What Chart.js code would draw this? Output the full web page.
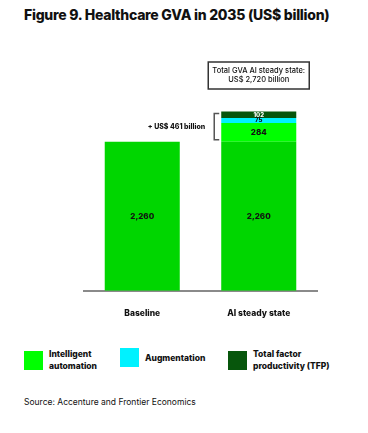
<!DOCTYPE html>
<html>
<head>
<meta charset="utf-8">
<script src="https://cdn.jsdelivr.net/npm/chart.js@4.4.1/dist/chart.umd.min.js"></script>
<style>
  body { margin: 0; width: 368px; height: 433px; background: #fff; position: relative; overflow: hidden;
         font-family: Inter, "Open Sans", sans-serif; color: #111; }
  h1 { position: absolute; left: 24px; top: 6px; margin: 0; font-size: 14px; line-height: 18px; font-weight: 800; letter-spacing: -0.25px; white-space: nowrap; }
  #wrap { position: absolute; left: 0; top: 0; width: 368px; height: 341px; }
  #legend { position: absolute; left: 0; top: 348px; width: 368px; height: 24px; }
  .item { position: absolute; top: 0; display: flex; align-items: center; }
  .swatch { width: 19px; height: 19px; flex: none; }
  .text { margin-left: 6px; font-size: 8.5px; font-weight: 800; line-height: 12px; white-space: nowrap; }
  #source { position: absolute; left: 24px; top: 396px; font-size: 8.5px; line-height: 12px; white-space: nowrap; }
</style>
</head>
<body>
<h1>Figure 9. Healthcare GVA in 2035 (US$ billion)</h1>
<div id="wrap"><canvas id="gvaChart"></canvas></div>
<div id="legend"></div>
<div id="source">Source: Accenture and Frontier Economics</div>
<script>
const categories = ['Baseline', 'AI steady state'];
const baselineGva = [2260, 2260];
const intelligentAutomation = [null, 284];
const augmentation = [null, 75];
const totalFactorProductivity = [null, 102];
const totalAiLabel = 2720;

const gain = intelligentAutomation[1] + augmentation[1] + totalFactorProductivity[1];
const stackTop = baselineGva[1] + gain;

const segmentLabels = {
    id: 'segmentLabels',
    afterDatasetsDraw(chart) {
        const ctx = chart.ctx;
        ctx.save();
        ctx.textAlign = 'center';
        ctx.textBaseline = 'middle';
        chart.data.datasets.forEach((ds, i) => {
            chart.getDatasetMeta(i).data.forEach((bar, j) => {
                const v = ds.data[j];
                if (!v) return;
                ctx.font = '800 ' + (v < 200 ? 6 : 8) + 'px Inter';
                ctx.fillStyle = ds.labelColor;
                ctx.fillText(v.toLocaleString('en-US'), bar.x, (bar.y + bar.base) / 2);
            });
        });
        ctx.restore();
    }
};

const annotations = {
    id: 'annotations',
    afterDraw(chart) {
        const ctx = chart.ctx;
        const y = chart.scales.y;
        const bar = chart.getDatasetMeta(0).data[1];
        const left = bar.x - bar.width / 2;
        const topPx = y.getPixelForValue(stackTop);
        const basePx = y.getPixelForValue(baselineGva[1]);
        ctx.save();

        // bracket round the AI uplift
        const bx = left - 7;
        ctx.strokeStyle = '#555';
        ctx.lineWidth = 1.5;
        ctx.beginPath();
        ctx.moveTo(bx + 5, topPx + 2);
        ctx.lineTo(bx, topPx + 2);
        ctx.lineTo(bx, basePx - 2);
        ctx.lineTo(bx + 5, basePx - 2);
        ctx.stroke();

        ctx.fillStyle = '#111';
        ctx.font = '800 7px Inter';
        ctx.textAlign = 'right';
        ctx.textBaseline = 'middle';
        ctx.fillText('+ US$ ' + gain + ' billion', bx - 9, (topPx + basePx) / 2);

        // total box
        const w = 101, h = 27;
        const boxTop = chart.chartArea.top - 31;
        ctx.strokeStyle = '#333';
        ctx.lineWidth = 1.5;
        ctx.strokeRect(bar.x - w / 2, boxTop, w, h);
        ctx.textAlign = 'center';
        ctx.font = '500 7.5px Inter';
        ctx.fillText('Total GVA AI steady state:', bar.x, boxTop + 9);
        ctx.fillText('US$ ' + totalAiLabel.toLocaleString('en-US') + ' billion', bar.x, boxTop + 18);
        ctx.restore();
    }
};

const ctx = document.getElementById('gvaChart').getContext('2d');
const gvaChart = new Chart(ctx, {
    type: 'bar',
    data: {
        labels: categories,
        datasets: [
            { label: 'Baseline', data: baselineGva, backgroundColor: '#00d600', labelColor: '#111', inLegend: false },
            { label: ['Intelligent', 'automation'], data: intelligentAutomation, backgroundColor: '#00ff00', labelColor: '#111', inLegend: true },
            { label: ['Augmentation'], data: augmentation, backgroundColor: '#00f2ff', labelColor: '#111', inLegend: true },
            { label: ['Total factor', 'productivity (TFP)'], data: totalFactorProductivity, backgroundColor: '#07560c', labelColor: '#fff', inLegend: true }
        ]
    },
    options: {
        responsive: true,
        maintainAspectRatio: false,
        animation: false,
        datasets: { bar: { categoryPercentage: 1, barPercentage: 0.644, borderWidth: 0 } },
        layout: { padding: { left: 84, right: 51, top: 93, bottom: 4 } },
        plugins: { legend: { display: false }, tooltip: { enabled: false } },
        scales: {
            x: {
                stacked: true,
                grid: { display: false, drawTicks: false },
                border: { color: '#8a8a8a', width: 2 },
                ticks: { color: '#111', padding: 18, font: { family: 'Inter', size: 8.5, weight: '800' } }
            },
            y: { stacked: true, display: false, min: 0, max: 3000 }
        }
    },
    plugins: [segmentLabels, annotations]
});

const legendOffsets = [24, 120, 228];
const legend = document.getElementById('legend');
gvaChart.data.datasets.filter(ds => ds.inLegend).forEach((ds, i) => {
    const item = document.createElement('div');
    item.className = 'item';
    item.style.left = legendOffsets[i] + 'px';
    item.innerHTML = `<div class="swatch" style="background:${ds.backgroundColor}"></div>
        <div class="text">${ds.label.join('<br>')}</div>`;
    legend.appendChild(item);
});
</script>
</body>
</html>
